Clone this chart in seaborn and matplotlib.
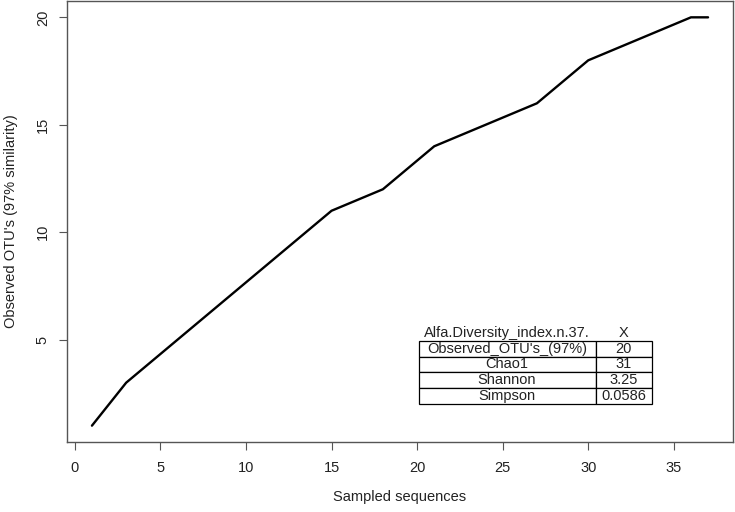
import matplotlib
matplotlib.use("Agg")
import matplotlib.pyplot as plt
import seaborn as sns
import pandas as pd

# data
sampled = [1, 3, 15, 18, 21, 27, 30, 36, 37]
observed = [1, 3, 11, 12, 14, 16, 18, 20, 20]
x_ticks = [0, 5, 10, 15, 20, 25, 30, 35]
y_ticks = [5, 10, 15, 20]
table_header = ["Alfa.Diversity_index.n.37.", "X"]
table_rows = ["Observed_OTU's_(97%)", "Chao1", "Shannon", "Simpson"]
table_vals = ["20", "31", "3.25", "0.0586"]

sns.set_style("white")
plt.rcParams["font.family"] = ["Liberation Sans", "DejaVu Sans"]

df = pd.DataFrame({"Sampled sequences": sampled, "Observed": observed})

fig = plt.figure(figsize=(7.35, 5.12), dpi=100)
ax = fig.add_axes([67.3 / 735, 1 - 442 / 512, 665.4 / 735, 441 / 512])

sns.lineplot(data=df, x="Sampled sequences", y="Observed", ax=ax,
             color="black", linewidth=1.7, sort=True)

ax.set_xlim(-0.44, 38.44)
ax.set_ylim(0.24, 20.76)
ax.set_xticks(x_ticks)
ax.set_yticks(y_ticks)
ax.set_xticklabels([str(v) for v in x_ticks])
ax.set_yticklabels([str(v) for v in y_ticks], rotation=90, va="center")

for s in ax.spines.values():
    s.set_visible(True)
    s.set_color("#555555")
    s.set_linewidth(1.0)

ax.tick_params(axis="both", which="major", direction="out", length=5.5,
               width=0.8, color="#555555", labelsize=10.5, labelcolor="#222222",
               bottom=True, left=True)
ax.tick_params(axis="x", pad=8)
ax.tick_params(axis="y", pad=7)

ax.set_xlabel("Sampled sequences", fontsize=10.5, color="#222222", labelpad=11)
ax.set_ylabel("Observed OTU's (97% similarity)", fontsize=10.5, color="#222222",
              labelpad=13)

cell_text = [table_header] + [[r, v] for r, v in zip(table_rows, table_vals)]
tbl = ax.table(cellText=cell_text, colWidths=[0.757, 0.243], cellLoc="center",
               bbox=[(418.6 - 67.3) / 665.4, (442 - 404) / 441,
                     (652.3 - 418.6) / 665.4, (404 - 325) / 441])
tbl.auto_set_font_size(False)
tbl.set_fontsize(10.5)
for (r, c), cell in tbl.get_celld().items():
    cell.set_linewidth(0.9)
    cell.set_edgecolor("black")
    cell.get_text().set_color("#222222")
    if r == 0:
        cell.visible_edges = ""
        cell.set_facecolor("none")

fig.savefig("out.png", dpi=100)
